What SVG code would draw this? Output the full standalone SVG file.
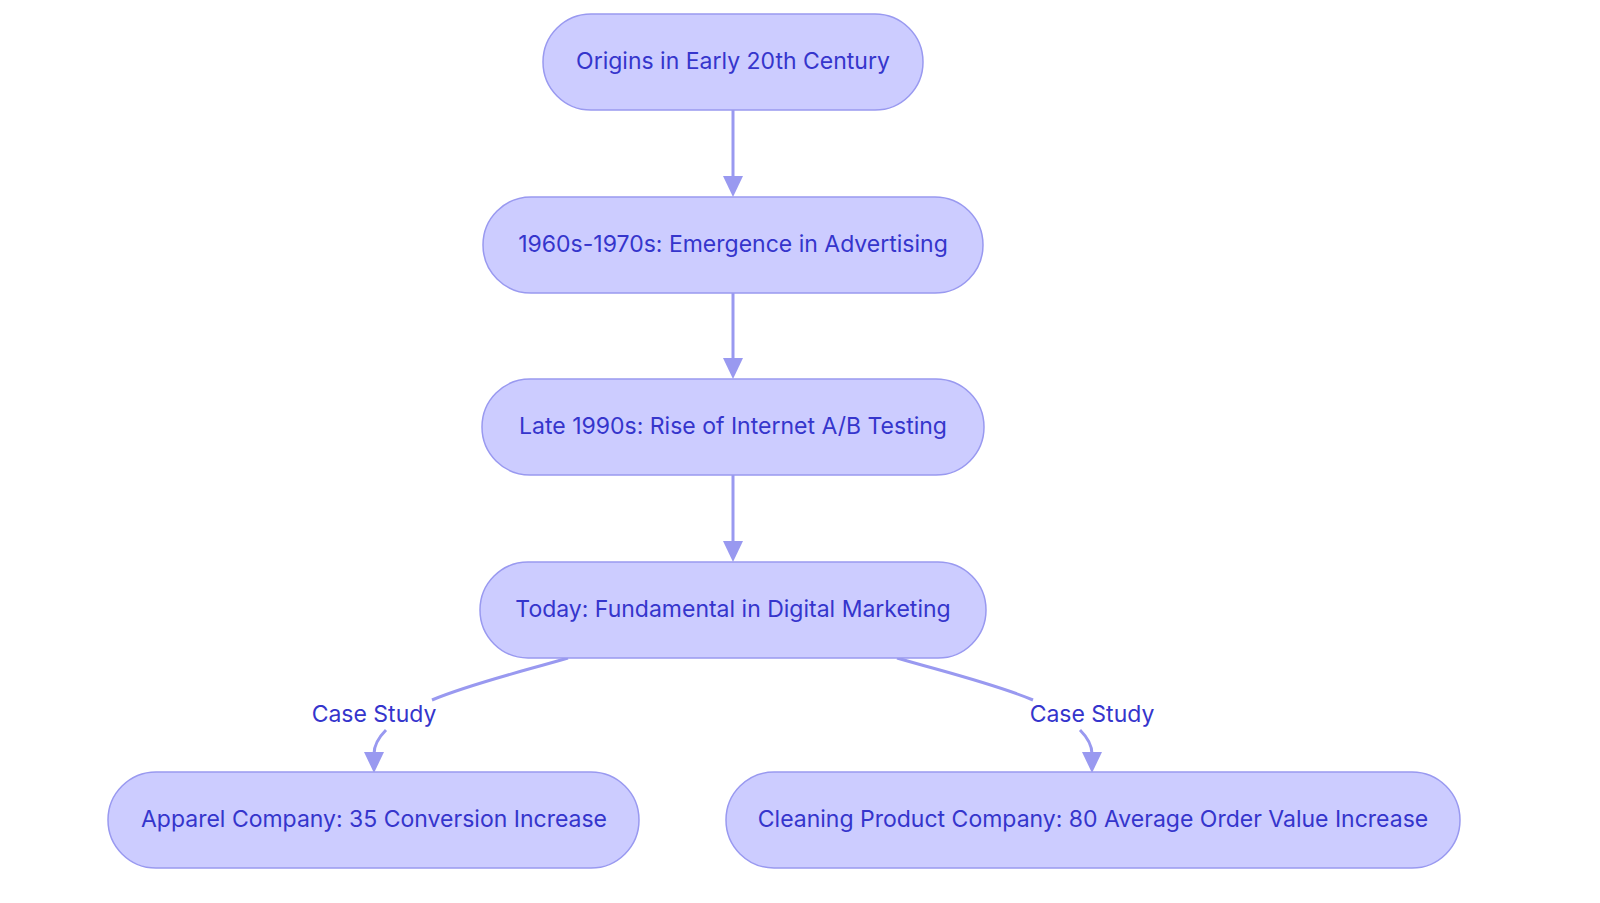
<svg xmlns="http://www.w3.org/2000/svg" width="1600" height="903" viewBox="0 0 1600 903">
<style>
.n rect{fill:#ccccff;stroke:#9999f0;stroke-width:1.5}
.n text,.l{font-family:Inter,"Noto Sans",sans-serif;font-size:23px;fill:#3535cc;text-anchor:middle;dominant-baseline:central}
.e{fill:none;stroke:#9999f0;stroke-width:3}
</style>
<defs><marker id="a" viewBox="0 0 10 10" refX="9" refY="5" markerWidth="4.5" markerHeight="4.5" orient="auto" markerUnits="userSpaceOnUse" style="overflow:visible"><path d="M0,0L10,5L0,10z" fill="#9999f0" transform="scale(2)" /></marker></defs>
<rect width="1600" height="903" fill="#fff"/>
<g id="connectors">
<path class="e" d="M733,110V178"/><path d="M723,176L733,197L743,176z" fill="#9999f0"/>
<path class="e" d="M733,293V360"/><path d="M723,358L733,379L743,358z" fill="#9999f0"/>
<path class="e" d="M733,475V543"/><path d="M723,541L733,562L743,541z" fill="#9999f0"/>
<path class="e" d="M568,658C520,672 470,684 432,700"/>
<path class="e" d="M386,730C378,738 374,745 374,754"/><path d="M364,752L374,773L384,752z" fill="#9999f0"/>
<path class="e" d="M897,658C945,672 995,684 1033,700"/>
<path class="e" d="M1080,730C1088,738 1092,745 1092,754"/><path d="M1082,752L1092,773L1102,752z" fill="#9999f0"/>
<text class="l" x="374" y="714">Case Study</text>
<text class="l" x="1092" y="714">Case Study</text>
</g>
<g id="n1" class="n"><rect x="543" y="14" width="380" height="96" rx="48"/><text x="733" y="61">Origins in Early 20th Century</text></g>
<g id="n2" class="n"><rect x="483" y="197" width="500" height="96" rx="48"/><text x="733" y="244">1960s-1970s: Emergence in Advertising</text></g>
<g id="n3" class="n"><rect x="482" y="379" width="502" height="96" rx="48"/><text x="733" y="426">Late 1990s: Rise of Internet A/B Testing</text></g>
<g id="n4" class="n"><rect x="480" y="562" width="506" height="96" rx="48"/><text x="733" y="609">Today: Fundamental in Digital Marketing</text></g>
<g id="n5" class="n"><rect x="108" y="772" width="531" height="96" rx="48"/><text x="374" y="819">Apparel Company: 35 Conversion Increase</text></g>
<g id="n6" class="n"><rect x="726" y="772" width="734" height="96" rx="48"/><text x="1093" y="819">Cleaning Product Company: 80 Average Order Value Increase</text></g>
</svg>
